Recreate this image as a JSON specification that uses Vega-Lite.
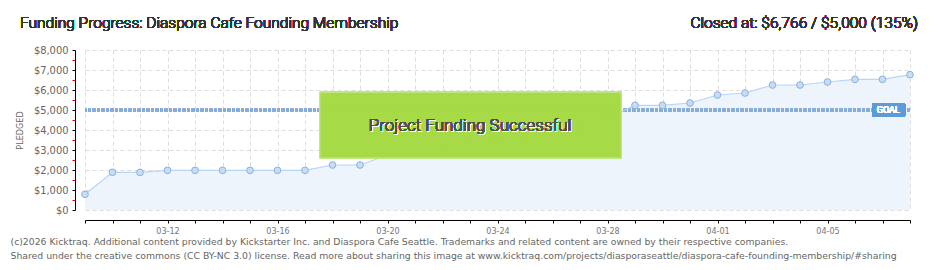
{
  "$schema": "https://vega.github.io/schema/vega-lite/v6.json",
  "autosize": "none",
  "width": 825,
  "height": 160,
  "padding": {"left": 85, "top": 50, "right": 30, "bottom": 60},
  "background": "white",
  "config": {
    "view": {"stroke": null},
    "font": "Liberation Sans Narrow, DejaVu Sans Condensed, sans-serif"
  },
  "data": {
    "values": [
      {"date": "2025-03-09", "pledged": 785},
      {"date": "2025-03-10", "pledged": 1885},
      {"date": "2025-03-11", "pledged": 1880},
      {"date": "2025-03-12", "pledged": 1983},
      {"date": "2025-03-13", "pledged": 1983},
      {"date": "2025-03-14", "pledged": 1983},
      {"date": "2025-03-15", "pledged": 1983},
      {"date": "2025-03-16", "pledged": 1983},
      {"date": "2025-03-17", "pledged": 1983},
      {"date": "2025-03-18", "pledged": 2250},
      {"date": "2025-03-19", "pledged": 2250},
      {"date": "2025-03-20", "pledged": 2750},
      {"date": "2025-03-21", "pledged": 2750},
      {"date": "2025-03-22", "pledged": 3083},
      {"date": "2025-03-23", "pledged": 3333},
      {"date": "2025-03-24", "pledged": 3500},
      {"date": "2025-03-25", "pledged": 3583},
      {"date": "2025-03-26", "pledged": 3883},
      {"date": "2025-03-27", "pledged": 4117},
      {"date": "2025-03-28", "pledged": 4617},
      {"date": "2025-03-29", "pledged": 5233},
      {"date": "2025-03-30", "pledged": 5233},
      {"date": "2025-03-31", "pledged": 5350},
      {"date": "2025-04-01", "pledged": 5750},
      {"date": "2025-04-02", "pledged": 5850},
      {"date": "2025-04-03", "pledged": 6250},
      {"date": "2025-04-04", "pledged": 6250},
      {"date": "2025-04-05", "pledged": 6400},
      {"date": "2025-04-06", "pledged": 6533},
      {"date": "2025-04-07", "pledged": 6533},
      {"date": "2025-04-08", "pledged": 6766}
    ]
  },
  "resolve": {"axis": {"y": "independent"}},
  "layer": [
    {
      "mark": {"type": "area", "color": "#edf4fc"},
      "encoding": {
        "x": {
          "field": "date", "type": "temporal",
          "scale": {"type": "utc", "domain": [{"year": 2025, "month": 3, "date": 9, "utc": true}, {"year": 2025, "month": 4, "date": 8, "utc": true}], "nice": false},
          "axis": {
            "title": ["(c)2026 Kicktraq. Additional content provided by Kickstarter Inc. and Diaspora Cafe Seattle. Trademarks and related content are owned by their respective companies.", "Shared under the creative commons (CC BY-NC 3.0) license. Read more about sharing this image at www.kicktraq.com/projects/diasporaseattle/diaspora-cafe-founding-membership/#sharing"],
            "titleAnchor": "start",
            "titleAlign": "left",
            "titleBaseline": "alphabetic",
            "titleX": -75,
            "titleY": 24,
            "titleFont": "DejaVu Sans",
            "titleFontSize": 9.3,
            "titleFontWeight": "normal",
            "titleColor": "#666666",
            "titleLineHeight": 14,
            "offset": 10,
            "tickCount": {"interval": "day", "step": 1},
            "labelExpr": "indexof(['03-12','03-16','03-20','03-24','03-28','04-01','04-05'], utcFormat(datum.value, '%m-%d')) >= 0 ? utcFormat(datum.value, '%m-%d') : ''",
            "labelFontSize": 9,
            "labelColor": "#777777",
            "labelPadding": 3,
            "labelFlush": false,
            "labelOverlap": false,
            "tickSize": 3,
            "tickColor": "#000000",
            "domainColor": "#000000",
            "grid": true,
            "gridColor": "#dddddd",
            "gridDash": [4, 3]
          }
        },
        "y": {
          "field": "pledged", "type": "quantitative",
          "scale": {"domain": [0, 8000], "nice": false, "zero": true},
          "axis": {
            "title": "PLEDGED",
            "titleFontSize": 9,
            "titleFontWeight": "normal",
            "titleColor": "#666666",
            "titlePadding": 9,
            "offset": 10,
            "values": [0, 1000, 2000, 3000, 4000, 5000, 6000, 7000, 8000],
            "format": "$,.0f",
            "labelFontSize": 11,
            "labelColor": "#666666",
            "labelPadding": 4,
            "tickSize": 3,
            "tickColor": "#000000",
            "domainColor": "#000000",
            "grid": true,
            "gridColor": "#dddddd",
            "gridDash": [4, 3]
          }
        }
      }
    },
    {
      "mark": {"type": "rule", "color": "#86acd9", "strokeWidth": 2.5, "strokeDash": [3, 1.5]},
      "encoding": {"y": {"datum": 5000, "axis": null}}
    },
    {
      "mark": {"type": "line", "color": "#b9d5f3", "strokeWidth": 1.2},
      "encoding": {
        "x": {"field": "date", "type": "temporal"},
        "y": {
          "field": "pledged", "type": "quantitative",
          "axis": {
            "orient": "left",
            "offset": 10,
            "values": [500, 1500, 2500, 3500, 4500, 5500, 6500, 7500],
            "labels": false,
            "domain": false,
            "grid": false,
            "title": null,
            "tickSize": 3,
            "tickColor": "#ee0000"
          }
        }
      }
    },
    {
      "mark": {"type": "point", "filled": true, "fill": "#c6ddf7", "stroke": "#8eb0d9", "strokeWidth": 1, "size": 45, "opacity": 1},
      "encoding": {
        "x": {"field": "date", "type": "temporal"},
        "y": {"field": "pledged", "type": "quantitative", "axis": null}
      }
    },
    {
      "mark": {"type": "rect", "fill": "#a5da47", "fillOpacity": 0.75, "stroke": "#c4e68a", "strokeWidth": 1},
      "encoding": {
        "x": {"datum": {"year": 2025, "month": 3, "date": 17, "hours": 13, "utc": true}, "type": "temporal"},
        "x2": {"datum": {"year": 2025, "month": 3, "date": 28, "hours": 12, "utc": true}},
        "y": {"datum": 5885, "type": "quantitative", "axis": null},
        "y2": {"datum": 2600}
      }
    },
    {
      "mark": {"type": "text", "text": "Project Funding Successful", "font": "Roboto", "fontWeight": 300, "fontSize": 17, "color": "#ffffff", "dx": 1, "dy": 1, "baseline": "middle", "align": "center"},
      "encoding": {
        "x": {"datum": {"year": 2025, "month": 3, "date": 23, "hours": 0, "utc": true}, "type": "temporal"},
        "y": {"datum": 4200, "type": "quantitative", "axis": null}
      }
    },
    {
      "mark": {"type": "text", "text": "Project Funding Successful", "font": "Roboto", "fontWeight": 300, "fontSize": 17, "color": "#505050", "baseline": "middle", "align": "center"},
      "encoding": {
        "x": {"datum": {"year": 2025, "month": 3, "date": 23, "hours": 0, "utc": true}, "type": "temporal"},
        "y": {"datum": 4200, "type": "quantitative", "axis": null}
      }
    },
    {
      "mark": {"type": "rect", "fill": "#5b9bd9", "cornerRadius": 2},
      "encoding": {
        "x": {"datum": {"year": 2025, "month": 4, "date": 6, "hours": 15, "utc": true}, "type": "temporal"},
        "x2": {"datum": {"year": 2025, "month": 4, "date": 7, "hours": 20, "utc": true}},
        "y": {"datum": 5350, "type": "quantitative", "axis": null},
        "y2": {"datum": 4665}
      }
    },
    {
      "mark": {"type": "text", "text": "GOAL", "font": "Roboto", "fontSize": 9, "color": "#ffffff", "baseline": "middle", "align": "center"},
      "encoding": {
        "x": {"datum": {"year": 2025, "month": 4, "date": 7, "hours": 5, "utc": true}, "type": "temporal"},
        "y": {"datum": 5000, "type": "quantitative", "axis": null}
      }
    },
    {
      "mark": {"type": "text", "text": "Funding Progress: Diaspora Cafe Founding Membership", "font": "Roboto", "fontWeight": 300, "fontSize": 15.5, "color": "#333333", "baseline": "alphabetic", "align": "left", "dx": -65, "dy": -22},
      "encoding": {
        "x": {"datum": {"year": 2025, "month": 3, "date": 9, "utc": true}, "type": "temporal"},
        "y": {"datum": 8000, "type": "quantitative", "axis": null}
      }
    },
    {
      "mark": {"type": "text", "text": "Closed at:  $6,766 /  $5,000 (135%)", "font": "Roboto", "fontWeight": 300, "fontSize": 15.5, "color": "#333333", "baseline": "alphabetic", "align": "right", "dx": 8, "dy": -22},
      "encoding": {
        "x": {"datum": {"year": 2025, "month": 4, "date": 8, "utc": true}, "type": "temporal"},
        "y": {"datum": 8000, "type": "quantitative", "axis": null}
      }
    }
  ]
}
